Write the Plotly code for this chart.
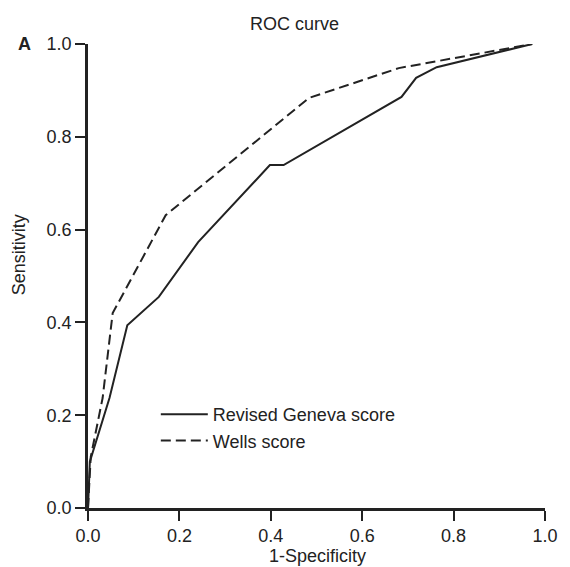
import plotly.graph_objects as go

# Data
geneva_x = [0.0, 0.004, 0.047, 0.086, 0.155, 0.241, 0.398, 0.428, 0.686, 0.718, 0.763, 0.972]
geneva_y = [0.0, 0.10, 0.237, 0.394, 0.455, 0.573, 0.739, 0.739, 0.886, 0.927, 0.950, 1.0]

wells_x = [0.0, 0.006, 0.032, 0.054, 0.17, 0.484, 0.68, 0.972]
wells_y = [0.0, 0.11, 0.237, 0.42, 0.631, 0.884, 0.948, 1.0]

tick_vals = [0.0, 0.2, 0.4, 0.6, 0.8, 1.0]
tick_text = ["0.0", "0.2", "0.4", "0.6", "0.8", "1.0"]

FONT = "Liberation Sans, Arial, sans-serif"
INK = "#222222"

W, H = 570, 567
L, R, T, B = 88, 17, 44, 59
pw, ph = W - L - R, H - T - B


def px_to_paper(px, py):
    return (px - L) / pw, (H - B - py) / ph


fig = go.Figure()
fig.add_trace(go.Scatter(x=geneva_x, y=geneva_y, mode="lines", name="Revised Geneva score",
                         line=dict(color=INK, width=2)))
fig.add_trace(go.Scatter(x=wells_x, y=wells_y, mode="lines", name="Wells score",
                         line=dict(color=INK, width=2, dash="10px,5px")))

axis_common = dict(
    range=[0, 1], tickvals=tick_vals, ticktext=tick_text,
    showgrid=False, zeroline=False, showline=True, linecolor=INK, linewidth=2.5,
    ticks="outside", ticklen=10, tickwidth=2, tickcolor=INK,
    tickfont=dict(family=FONT, size=18, color=INK),
)
fig.update_xaxes(**axis_common)
fig.update_yaxes(**axis_common)

annots = [
    ("ROC curve", 298, 24, 0),
    ("<b>A</b>", 23, 44, 0),
    ("Sensitivity", 18, 255, -90),
    ("1-Specificity", 322, 556, 0),
]
ann_list = []
for text, px, py, ang in annots:
    x, y = px_to_paper(px, py)
    ann_list.append(dict(text=text, x=x, y=y, xref="paper", yref="paper", showarrow=False,
                         xanchor="center", yanchor="middle", textangle=ang,
                         font=dict(family=FONT, size=18, color=INK)))

lx, ly = px_to_paper(157, 396)
fig.update_layout(
    width=W, height=H,
    margin=dict(l=L, r=R, t=T, b=B),
    plot_bgcolor="white", paper_bgcolor="white",
    showlegend=True,
    legend=dict(x=lx, y=ly, xanchor="left", yanchor="top",
                font=dict(family=FONT, size=18, color=INK),
                bgcolor="rgba(0,0,0,0)", tracegroupgap=0, itemwidth=47),
    annotations=ann_list,
)

fig.write_html("out.html", config={"displayModeBar": False},
               post_script="document.body.style.margin='0';document.body.style.overflow='hidden';")
